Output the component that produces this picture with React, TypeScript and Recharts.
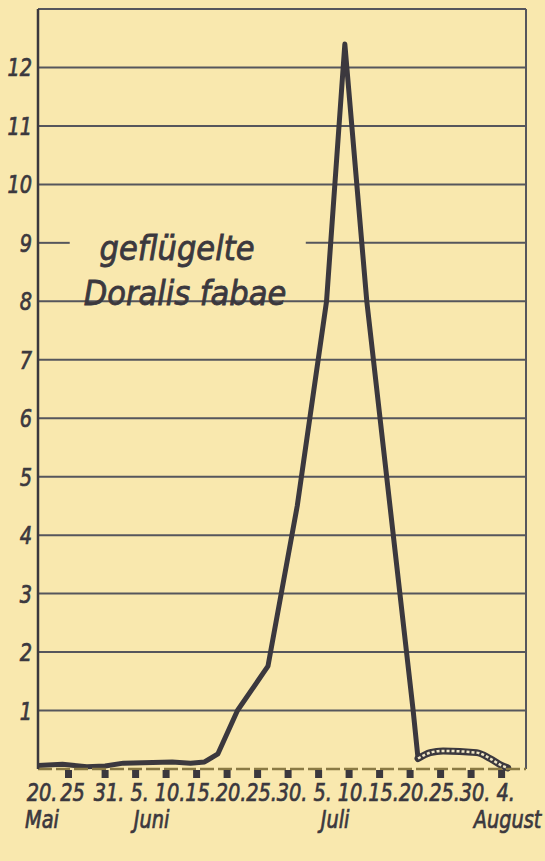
import React from 'react'
import {
  LineChart, Line, XAxis, YAxis, ReferenceLine,
} from 'recharts'

// days counted from 20. Mai
const tickDays = [0, 5, 11, 16, 21, 26, 31, 36, 41, 46, 51, 56, 61, 66, 71, 76]
const tickLabels = ['20.', '25', '31.', '5.', '10.', '15.', '20.', '25.', '30.', '5.', '10.', '15.', '20.', '25.', '30.', '4.']
const monthDays = [0, 16, 51, 76]
const monthNames = ['Mai', 'Juni', 'Juli', 'August']
const monthShift = [4, 16, -14, 6]

const yTicks = [1, 2, 3, 4, 5, 6, 7, 8, 9, 10, 11, 12]

const mainDays = [0, 4, 8, 11, 14, 22, 25, 27.3, 29.5, 32.7, 37.7, 42.5, 47.3, 50.3, 53.9, 61.5, 62.3]
const mainCounts = [0.06, 0.08, 0.04, 0.05, 0.1, 0.12, 0.1, 0.12, 0.26, 1.0, 1.76, 4.5, 8.0, 12.4, 8.0, 1.0, 0.18]

const lateDays = [62.3, 64.3, 66.4, 71.9, 74.1, 76.0, 77]
const lateCounts = [0.18, 0.28, 0.31, 0.28, 0.18, 0.06, 0.02]

const mainData = mainDays.map((d, i) => ({ day: d, n: mainCounts[i] }))
const lateData = lateDays.map((d, i) => ({ day: d, n: lateCounts[i] }))

const INK = '#3b383e'
const GRID = '#56565c'
const FONT = '"Liberation Sans Narrow", "DejaVu Sans Condensed", sans-serif'

function Squeezed({ x, y, anchor, children }: any) {
  return (
    <text transform={`translate(${x},${y}) scale(0.86,1)`} textAnchor={anchor}
      fontSize={25} fontStyle="italic" fontFamily={FONT} fill={INK}
      stroke={INK} strokeWidth={0.7}>
      {children}
    </text>
  )
}

function XTick(props: any) {
  const { x, y, payload } = props
  const i = tickDays.indexOf(payload.value)
  const m = monthDays.indexOf(payload.value)
  return (
    <g>
      {i > 0 && <rect x={x - 3.5} y={y + 1} width={7} height={8} fill={INK} />}
      <Squeezed x={x + 4} y={y + 32} anchor="middle">{tickLabels[i]}</Squeezed>
      {m >= 0 && (
        <Squeezed x={x + monthShift[m]} y={y + 59} anchor="middle">{monthNames[m]}</Squeezed>
      )}
    </g>
  )
}

function YTick(props: any) {
  const { x, y, payload } = props
  return <Squeezed x={x - 6} y={y + 9} anchor="end">{payload.value}</Squeezed>
}

export default function App() {
  return (
    <div style={{ position: 'fixed', left: 0, top: 0, width: 545, height: 861, background: '#f9e8ae' }}>
      <LineChart width={545} height={861} margin={{ top: 9, right: 19, left: 0, bottom: 62 }}>
        <XAxis type="number" dataKey="day" domain={[0, 80]} ticks={tickDays}
          allowDataOverflow tickLine={false} tickSize={0} tickMargin={0} interval={0}
          axisLine={{ stroke: '#8a7a44', strokeWidth: 2.5, strokeDasharray: '14 4' }}
          tick={<XTick />} />
        <YAxis type="number" domain={[0, 13]} ticks={yTicks} width={38}
          tickLine={false} tickSize={0} tickMargin={0} interval={0}
          axisLine={{ stroke: INK, strokeWidth: 2.5 }} tick={<YTick />} />
        {[1, 2, 3, 4, 5, 6, 7, 8, 10, 11, 12, 13].map((v) => (
          <ReferenceLine key={v} y={v} stroke={GRID} strokeWidth={2} />
        ))}
        <ReferenceLine segment={[{ x: 0, y: 9 }, { x: 5.2, y: 9 }]} stroke={GRID} strokeWidth={2} />
        <ReferenceLine segment={[{ x: 43.9, y: 9 }, { x: 80, y: 9 }]} stroke={GRID} strokeWidth={2} />
        <ReferenceLine x={80} stroke={GRID} strokeWidth={2} />
        <Line data={mainData} dataKey="n" type="linear" stroke={INK} strokeWidth={5}
          strokeLinejoin="round" strokeLinecap="round" dot={false} isAnimationActive={false} />
        <Line data={lateData} dataKey="n" type="monotone" stroke={INK} strokeWidth={7}
          strokeLinecap="round" dot={false} isAnimationActive={false} />
        <Line data={lateData} dataKey="n" type="monotone" stroke="#efe6c6" strokeWidth={2.5}
          strokeDasharray="3 2" dot={false} isAnimationActive={false} />
      </LineChart>
      <div style={{
        position: 'absolute', left: 58, top: 226, width: 254, textAlign: 'center',
        fontFamily: FONT, fontStyle: 'italic', fontSize: 34, lineHeight: '45px', color: INK,
        WebkitTextStroke: '0.8px ' + INK,
      }}>
        <span style={{ position: 'relative', left: -8 }}>geflügelte</span><br />Doralis fabae
      </div>
    </div>
  )
}
